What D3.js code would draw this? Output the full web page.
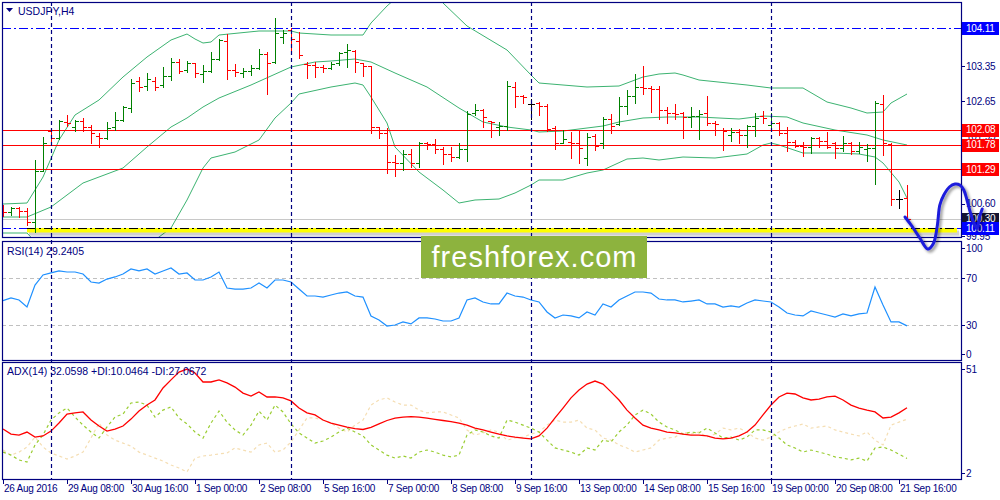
<!DOCTYPE html>
<html><head><meta charset="utf-8">
<script src="https://cdn.jsdelivr.net/npm/d3@7"></script>
<style>
body{margin:0;background:#fff;}
svg{display:block;}
text{font-family:"Liberation Sans",Arial,sans-serif;}
</style>
</head><body>
<svg id="c" width="1000" height="500"></svg>
<script>
// ---------------- DATA ----------------
const symbolTitle = "USDJPY,H4";
const rsiTitle = "RSI(14) 29.2405";
const adxTitle = "ADX(14) 32.0598 +DI:10.0464 -DI:27.0672";
const timeTickBars = [0,8,16,24,32,40,48,56,64,72,80,88,96,104,112];
const timeTickLabels = ["26 Aug 2016","29 Aug 08:00","30 Aug 16:00","1 Sep 00:00","2 Sep 08:00","5 Sep 16:00","7 Sep 00:00","8 Sep 08:00","9 Sep 16:00","13 Sep 00:00","14 Sep 08:00","15 Sep 16:00","19 Sep 00:00","20 Sep 08:00","21 Sep 16:00"];
const weekSeparatorBars = [6,36,66,96];
const priceTicks = [104.05,103.35,102.65,101.95,101.25,100.60,99.95];
const rsiTicks = [100,70,30,0];
const rsiLevels = [70,30];
const adxTicks = [51,2];

const opens  = [100.53,100.43,100.51,100.45,100.23,101.25,102.05,101.91,102.23,102.13,102.25,102.13,101.95,101.91,102.13,102.27,102.51,103.05,102.95,103.05,102.97,103.15,103.43,103.27,103.41,103.19,103.25,103.49,103.85,103.27,103.21,103.25,103.31,103.59,103.43,103.93,104.07,103.85,103.39,103.37,103.33,103.31,103.41,103.63,103.65,103.41,103.35,102.13,102.01,101.43,101.41,101.59,101.41,101.81,101.79,101.69,101.59,101.53,101.69,102.41,102.47,102.25,102.13,102.15,102.93,102.75,102.59,102.61,102.55,102.11,101.81,101.83,101.81,101.51,101.95,101.81,102.29,102.19,102.55,102.75,102.93,102.91,102.89,102.47,102.41,102.41,102.33,102.35,102.41,102.21,102.07,101.97,102.03,101.97,102.15,102.35,102.17,102.21,102.01,101.83,101.75,101.73,101.91,101.85,101.81,101.71,101.81,101.65,101.69,101.71,102.59,101.79,100.69,100.71];
const highs  = [100.57,100.53,100.53,100.51,101.47,101.93,102.09,102.27,102.37,102.27,102.31,102.17,102.01,102.23,102.43,102.55,103.09,103.13,103.21,103.13,103.33,103.51,103.49,103.45,103.41,103.37,103.63,103.89,103.99,103.39,103.31,103.37,103.69,103.63,104.31,104.07,104.11,104.03,103.43,103.43,103.37,103.43,103.63,103.79,103.67,103.41,103.35,102.13,102.11,101.57,101.67,101.69,101.83,101.83,101.89,101.73,101.73,101.81,102.45,102.59,102.49,102.25,102.23,103.05,103.03,102.77,102.69,102.63,102.59,102.15,102.07,102.03,102.07,102.01,101.99,102.33,102.39,102.73,102.87,103.19,103.35,102.95,102.95,102.53,102.59,102.43,102.53,102.47,102.75,102.25,102.11,102.11,102.09,102.17,102.41,102.45,102.41,102.23,102.13,101.87,101.83,101.93,101.93,102.03,101.83,101.95,101.83,101.83,101.79,102.65,102.77,101.81,100.87,100.97];
const lows   = [100.35,100.37,100.33,100.17,100.03,101.25,101.81,101.89,102.15,102.05,102.05,101.81,101.73,101.89,102.07,102.25,102.43,102.85,102.87,102.87,102.93,103.07,103.21,103.23,103.13,103.03,103.23,103.47,103.09,103.15,103.13,103.17,103.29,102.79,103.41,103.81,103.63,103.51,103.11,103.13,103.23,103.29,103.37,103.33,103.23,103.15,102.01,101.91,101.21,101.15,101.27,101.33,101.33,101.69,101.61,101.39,101.45,101.51,101.45,102.37,102.13,101.93,101.97,102.07,102.53,102.61,102.29,102.37,102.05,101.69,101.81,101.51,101.41,101.37,101.67,101.71,102.01,102.17,102.39,102.61,102.79,102.43,102.29,102.21,102.29,101.91,102.13,101.89,102.17,101.97,101.67,101.85,101.81,101.73,101.95,102.21,102.11,101.97,101.65,101.73,101.55,101.61,101.73,101.71,101.51,101.65,101.59,101.61,101.45,100.99,101.57,100.57,100.51,100.28];
const closes = [100.43,100.51,100.45,100.23,101.25,101.81,101.91,102.25,102.21,102.25,102.13,102.01,101.91,102.11,102.27,102.53,103.01,102.93,103.09,102.93,103.15,103.43,103.25,103.41,103.21,103.25,103.49,103.87,103.27,103.23,103.25,103.31,103.59,103.41,104.01,104.01,103.89,103.57,103.37,103.33,103.31,103.39,103.61,103.67,103.43,103.35,102.13,102.01,101.43,101.41,101.59,101.41,101.81,101.79,101.69,101.59,101.53,101.69,102.39,102.47,102.33,102.23,102.15,102.95,102.75,102.73,102.59,102.55,102.09,101.81,101.89,101.81,101.71,101.93,101.75,102.29,102.15,102.55,102.75,102.93,102.91,102.89,102.47,102.41,102.39,102.33,102.35,102.39,102.21,102.19,102.05,102.03,101.97,102.15,102.31,102.31,102.21,102.01,101.83,101.75,101.73,101.91,101.85,101.73,101.71,101.81,101.65,101.73,101.71,102.61,101.81,100.69,100.69,100.30];

// Bollinger bands, sampled [bar, price]
const bandUpper = [[0,100.59],[3,100.61],[5,101.13],[7,101.87],[9,102.37],[12,102.67],[15,103.13],[18,103.53],[21,103.87],[23,103.99],[24,103.89],[25,103.81],[26,103.83],[27,103.97],[32,104.05],[36,104.05],[37,104.01],[41,103.97],[45,103.97],[46,104.21],[48,104.55],[50,104.83],[52,104.91],[54,104.79],[55,104.61],[58,104.15],[63,103.67],[66,103.17],[67,103.01],[70,102.97],[73,102.93],[77,102.95],[80,103.13],[82,103.19],[84,103.21],[85,103.17],[87,103.07],[93,102.97],[96,102.91],[100,102.91],[103,102.63],[106,102.51],[108,102.41],[110,102.43],[111,102.61],[113,102.79]];
const bandMiddle = [[0,100.33],[3,100.33],[6,100.53],[10,101.01],[15,101.31],[18,101.73],[21,102.13],[23,102.31],[25,102.53],[27,102.71],[31,102.97],[36,103.33],[39,103.43],[41,103.45],[44,103.49],[46,103.43],[49,103.21],[53,102.93],[57,102.51],[60,102.23],[63,102.13],[66,102.07],[67,102.03],[70,102.05],[72,102.09],[75,102.15],[77,102.23],[80,102.31],[83,102.33],[87,102.33],[92,102.29],[95,102.35],[98,102.33],[100,102.21],[104,102.07],[108,101.97],[110,101.87],[113,101.77]];
const bandLower = [[0,100.01],[3,100.01],[5,99.67],[8,99.23],[12,98.97],[15,99.17],[17,99.51],[19,99.87],[21,100.11],[23,100.67],[25,101.31],[26,101.51],[29,101.63],[32,101.87],[34,102.31],[36,102.61],[37,102.79],[41,102.93],[44,103.01],[45,102.97],[46,102.73],[48,102.21],[49,101.73],[52,101.23],[55,100.87],[57,100.61],[59,100.67],[62,100.69],[64,100.81],[66,100.97],[67,101.07],[70,101.07],[73,101.21],[75,101.27],[78,101.49],[80,101.51],[82,101.47],[83,101.49],[85,101.53],[89,101.51],[93,101.59],[95,101.77],[96,101.81],[97,101.77],[100,101.61],[104,101.61],[107,101.59],[109,101.53],[110,101.41],[112,101.03],[113,100.71]];

const redLevels = [102.08,101.78,101.29];
const blueLevel = 104.11;
const bidPrice = 100.30;
const supportLevel = 100.11;

const rsi = [50.7,53.0,51.3,45.3,64.0,72.6,74.3,76.0,75.1,75.1,73.4,66.6,65.7,69.1,70.9,73.4,77.7,76.0,77.7,73.4,76.0,78.5,73.4,74.3,68.3,68.3,70.9,75.1,61.5,60.6,60.6,61.5,65.7,61.5,68.3,68.3,66.6,60.6,54.7,54.7,53.8,55.5,57.2,58.1,54.7,53.8,37.7,34.3,29.1,30.0,32.6,30.9,36.0,36.0,35.1,33.4,33.4,36.0,51.3,53.0,49.6,47.9,47.9,57.2,54.7,53.8,51.3,49.6,41.1,36.0,38.5,37.7,36.0,41.1,38.5,47.9,45.3,51.3,54.7,58.1,58.1,57.2,52.1,51.3,51.3,49.6,50.4,51.3,47.9,47.9,45.3,46.2,45.3,48.7,51.3,50.4,49.6,45.3,40.2,38.5,37.7,41.9,40.2,38.5,36.8,39.4,37.7,39.4,40.2,62.3,47.0,32.6,32.6,29.24];
const adx = [22.8,20.6,20.2,21.5,19.3,19.8,21.9,25.4,29.3,29.8,30.2,26.7,24.1,21.9,22.8,24.1,27.1,30.6,33.2,35.4,40.6,44.1,47.5,48.8,47.1,43.2,43.2,44.1,42.8,41.0,38.4,37.1,38.9,36.7,36.7,36.3,35.0,31.9,29.8,28.9,26.7,25.4,24.5,23.6,23.0,22.6,23.5,25.0,26.5,27.5,28.0,28.2,28.0,27.5,27.0,26.5,26.0,25.4,24.5,23.2,22.4,21.5,20.6,19.8,19.3,18.9,18.5,19.8,23.2,27.6,31.9,36.3,39.7,42.3,43.6,42.3,38.9,35.4,31.0,27.6,24.5,23.2,22.4,21.5,21.1,20.6,20.2,20.2,19.8,18.9,18.5,18.9,19.8,21.5,24.5,28.9,33.2,36.7,38.4,38.0,36.3,35.4,35.8,36.7,37.1,35.4,33.2,31.9,31.0,30.2,27.6,28.0,29.8,32.06];
const plusDI = [12.8,11.5,9.4,8.5,15.9,20.2,26.7,29.8,31.9,28.0,24.5,21.5,18.9,23.7,28.0,29.3,34.1,34.5,33.2,28.0,31.0,32.4,27.6,25.0,21.5,18.9,25.4,30.6,25.8,22.4,20.2,24.5,30.6,26.7,33.2,30.2,25.0,21.1,18.9,16.7,17.6,19.3,21.5,23.2,21.5,19.8,15.9,13.7,11.5,10.2,11.1,10.2,12.8,13.7,12.8,11.5,10.7,11.5,20.2,22.4,21.5,19.8,18.9,26.7,25.8,24.5,23.2,21.5,18.0,14.6,13.7,12.8,11.5,14.6,13.7,18.0,17.2,21.5,24.5,28.9,31.0,29.3,25.8,23.7,22.4,20.6,21.5,21.1,23.2,21.1,18.9,19.3,18.0,19.3,22.4,22.4,21.5,18.9,15.9,14.6,12.8,13.7,12.8,11.9,10.7,10.2,9.4,10.2,8.9,14.6,15.0,13.7,11.9,10.05];
const minusDI = [13.7,11.5,12.8,15.0,19.3,15.0,12.4,11.1,9.8,11.1,12.8,18.9,25.4,20.2,18.0,16.7,15.4,12.8,11.5,10.2,8.9,7.2,5.9,4.2,10.2,11.1,11.5,12.0,12.4,14.6,13.7,12.8,15.9,16.7,12.8,13.7,17.2,22.4,27.6,27.6,26.7,25.4,23.2,21.5,24.5,26.7,33.2,35.4,36.3,34.5,33.2,33.2,31.0,29.8,30.2,30.2,28.9,27.6,22.4,20.2,21.1,22.4,21.5,18.0,18.9,19.3,20.6,21.5,24.5,26.7,25.8,25.8,26.7,23.2,22.4,18.9,18.0,15.9,14.6,12.8,13.7,14.6,18.0,18.9,19.3,21.5,20.6,21.5,19.3,20.6,23.2,22.4,23.2,21.5,18.9,18.0,19.3,21.5,23.2,24.1,25.0,23.2,23.7,24.1,22.4,21.5,20.6,19.8,21.5,18.0,15.9,24.5,25.8,27.07];

// hand-drawn annotation curve [bar, price]
const annotationCurve = [[112.75,100.33],[113.6,100.15],[114.6,99.91],[115.6,99.69],[116.3,99.80],[116.8,100.17],[117.1,100.57],[117.6,100.77],[118.3,100.93],[119,100.99],[119.6,100.97],[120.1,100.87],[120.5,100.67],[120.9,100.43],[121.4,100.19],[121.75,100.10],[122.1,100.35],[122.4,100.49]];

const watermark = "freshforex.com";

// ---------------- LAYOUT ----------------
const L = 2, R = 961;
const main = {top:2, bottom:237};
const rsiP = {top:241, bottom:360};
const adxP = {top:362, bottom:479};
const NAVY = "#000080";

const svg = d3.select("#c");
const x = d3.scaleLinear().domain([0,113]).range([3,907]);
const yP = d3.scaleLinear().domain([99.93,104.63]).range([main.bottom, main.top]);
const yR = d3.scaleLinear().domain([0,100]).range([360.25,242.75]);
const yA = d3.scaleLinear().domain([2,51]).range([477,364]);

const defs = svg.append("defs");
defs.append("clipPath").attr("id","clipMain").append("rect")
  .attr("x",L).attr("y",main.top).attr("width",R-L).attr("height",main.bottom-main.top);
defs.append("clipPath").attr("id","clipRsi").append("rect")
  .attr("x",L).attr("y",rsiP.top).attr("width",R-L).attr("height",rsiP.bottom-rsiP.top);
defs.append("clipPath").attr("id","clipAdx").append("rect")
  .attr("x",L).attr("y",adxP.top).attr("width",R-L).attr("height",adxP.bottom-adxP.top);
const f = defs.append("filter").attr("id","shadow").attr("x","-20%").attr("y","-20%").attr("width","140%").attr("height","140%");
f.append("feGaussianBlur").attr("in","SourceAlpha").attr("stdDeviation",1.5).attr("result","b");
f.append("feOffset").attr("in","b").attr("dx",2).attr("dy",2).attr("result","o");
f.append("feComponentTransfer").attr("in","o").attr("result","s").append("feFuncA").attr("type","linear").attr("slope",0.45);
const fm = f.append("feMerge"); fm.append("feMergeNode").attr("in","s"); fm.append("feMergeNode").attr("in","SourceGraphic");

const px = v => Math.round(v)+0.5;

// ---------------- MAIN PANEL ----------------
const gM = svg.append("g").attr("clip-path","url(#clipMain)");
gM.append("line").attr("x1",L).attr("x2",R).attr("y1",px(yP(bidPrice))).attr("y2",px(yP(bidPrice)))
  .attr("stroke","#c8c8c8").attr("stroke-width",1);
const bandLine = d3.line().x(d=>x(d[0])).y(d=>yP(d[1]));
[bandUpper,bandMiddle,bandLower].forEach(b=>{
  gM.append("path").attr("d",bandLine(b)).attr("fill","none").attr("stroke","#3cb371").attr("stroke-width",1);
});
redLevels.forEach(v=>{
  gM.append("line").attr("x1",L).attr("x2",R).attr("y1",px(yP(v))).attr("y2",px(yP(v)))
    .attr("stroke","#ff0000").attr("stroke-width",1.2);
});
gM.append("line").attr("x1",L).attr("x2",R).attr("y1",px(yP(blueLevel))).attr("y2",px(yP(blueLevel)))
  .attr("stroke","#0000ff").attr("stroke-width",1.2).attr("stroke-dasharray","9,3,2,3");
const ySup = px(yP(supportLevel));
gM.append("line").attr("x1",L).attr("x2",R).attr("y1",ySup).attr("y2",ySup)
  .attr("stroke","#0000ff").attr("stroke-width",1).attr("stroke-dasharray","9,3,2,3");
const zoneX1 = x(3), zoneX2 = 957;
gM.append("rect").attr("x",zoneX1+2).attr("y",ySup+2).attr("width",zoneX2-zoneX1).attr("height",5)
  .attr("fill","#000").attr("opacity",0.18).attr("filter","url(#shadow)");
gM.append("rect").attr("x",zoneX1).attr("y",ySup-0.5).attr("width",zoneX2-zoneX1).attr("height",4.5)
  .attr("fill","#ffff00");
gM.append("line").attr("x1",zoneX1).attr("x2",zoneX2).attr("y1",ySup).attr("y2",ySup)
  .attr("stroke","#000").attr("stroke-width",1.2).attr("stroke-dasharray","9,3,2,3");

const bars = d3.range(opens.length).map(i=>({i,o:opens[i],h:highs[i],l:lows[i],c:closes[i]}));
const barCol = d => d.c>d.o ? "#008000" : (d.c<d.o ? "#ff0000" : "#000000");
const gB = gM.append("g").attr("stroke-width",1).attr("shape-rendering","crispEdges");
gB.selectAll("g.bar").data(bars).join("g").attr("class","bar").each(function(d){
  const g = d3.select(this), cx = px(x(d.i)), col = barCol(d);
  g.append("line").attr("x1",cx).attr("x2",cx).attr("y1",Math.round(yP(d.h))).attr("y2",Math.round(yP(d.l))+1).attr("stroke",col).attr("stroke-width",1.4);
  g.append("line").attr("x1",cx-3.5).attr("x2",cx).attr("y1",px(yP(d.o))).attr("y2",px(yP(d.o))).attr("stroke",col);
  g.append("line").attr("x1",cx).attr("x2",cx+3.5).attr("y1",px(yP(d.c))).attr("y2",px(yP(d.c))).attr("stroke",col);
});

// ---------------- RSI PANEL ----------------
const gR = svg.append("g").attr("clip-path","url(#clipRsi)");
rsiLevels.forEach(v=>{
  gR.append("line").attr("x1",L).attr("x2",R).attr("y1",px(yR(v))).attr("y2",px(yR(v)))
    .attr("stroke","#c0c0c0").attr("stroke-dasharray","4,3");
});
gR.append("path").attr("d",d3.line().x((d,i)=>x(i)).y(d=>yR(d))(rsi))
  .attr("fill","none").attr("stroke","#1e90ff").attr("stroke-width",1.2);

// ---------------- ADX PANEL ----------------
const gA = svg.append("g").attr("clip-path","url(#clipAdx)");
const lA = d3.line().x((d,i)=>x(i)).y(d=>yA(d));
gA.append("path").attr("d",lA(minusDI)).attr("fill","none").attr("stroke","#f5deb3").attr("stroke-width",1.2).attr("stroke-dasharray","3,3");
gA.append("path").attr("d",lA(plusDI)).attr("fill","none").attr("stroke","#9acd32").attr("stroke-width",1.2).attr("stroke-dasharray","3,3");
gA.append("path").attr("d",lA(adx)).attr("fill","none").attr("stroke","#ff0000").attr("stroke-width",1.3);

// ---------------- SEPARATORS & FRAMES ----------------
weekSeparatorBars.forEach(b=>{
  svg.append("line").attr("x1",px(x(b))).attr("x2",px(x(b))).attr("y1",main.top).attr("y2",adxP.bottom)
    .attr("stroke",NAVY).attr("stroke-width",1.2).attr("stroke-dasharray","4,3");
});
[[main.top,main.bottom],[rsiP.top,rsiP.bottom],[adxP.top,adxP.bottom]].forEach(([t,b])=>{
  svg.append("rect").attr("x",L+0.5).attr("y",t+0.5).attr("width",R-L).attr("height",b-t)
    .attr("fill","none").attr("stroke",NAVY).attr("stroke-width",1.2);
});

// ---------------- AXES ----------------
const axisG = svg.append("g").attr("fill",NAVY).attr("font-size","10px");
priceTicks.forEach(v=>{
  const yy = yP(v);
  svg.append("line").attr("x1",R).attr("x2",R+4).attr("y1",px(yy)).attr("y2",px(yy)).attr("stroke",NAVY);
  axisG.append("text").attr("x",966).attr("y",yy+3.5).attr("letter-spacing","-0.2px").text(v.toFixed(2));
});
function clampY(v,p){return Math.max(p.top+7,Math.min(p.bottom-6,v));}
rsiTicks.forEach(v=>{
  const yy = clampY(yR(v),rsiP);
  svg.append("line").attr("x1",R).attr("x2",R+4).attr("y1",px(yy)).attr("y2",px(yy)).attr("stroke",NAVY);
  axisG.append("text").attr("x",966).attr("y",yy+3.5).text(v);
});
adxTicks.forEach(v=>{
  const yy = clampY(yA(v),adxP);
  svg.append("line").attr("x1",R).attr("x2",R+4).attr("y1",px(yy)).attr("y2",px(yy)).attr("stroke",NAVY);
  axisG.append("text").attr("x",966).attr("y",yy+3.5).text(v);
});
timeTickBars.forEach((b,k)=>{
  const xx = px(x(b));
  svg.append("line").attr("x1",xx).attr("x2",xx).attr("y1",adxP.bottom).attr("y2",adxP.bottom+5).attr("stroke",NAVY);
  axisG.append("text").attr("x",xx+0.5).attr("y",492).attr("letter-spacing","-0.25px").text(timeTickLabels[k]);
});

function levelLabel(v,fill){
  const yy = yP(v);
  svg.append("rect").attr("x",962).attr("y",Math.round(yy)-6).attr("width",37).attr("height",13).attr("fill",fill);
  svg.append("text").attr("x",966).attr("y",yy+3.8).attr("fill","#fff").attr("font-size","10px").attr("letter-spacing","-0.2px").text(v.toFixed(2));
}
levelLabel(blueLevel,"#0000ff");
redLevels.forEach(v=>levelLabel(v,"#ff0000"));
levelLabel(bidPrice,"#141432");
levelLabel(supportLevel,"#0000ff");

svg.append("path").attr("d","M6,8 L13,8 L9.5,12 Z").attr("fill",NAVY);
svg.append("text").attr("x",18).attr("y",14.5).attr("fill",NAVY).attr("font-size","10.5px").text(symbolTitle);
svg.append("text").attr("x",7).attr("y",255).attr("fill",NAVY).attr("font-size","10.5px").text(rsiTitle);
svg.append("text").attr("x",7).attr("y",375).attr("fill",NAVY).attr("font-size","10.5px").text(adxTitle);

// ---------------- WATERMARK ----------------
svg.append("rect").attr("x",421).attr("y",236).attr("width",226).attr("height",42).attr("fill","#8db33e");
svg.append("text").attr("x",534).attr("y",267).attr("text-anchor","middle").attr("fill","#fff")
  .attr("font-family","'Open Sans',sans-serif").attr("font-size","29px").attr("textLength",205).text(watermark);

// ---------------- ANNOTATION ----------------
svg.append("path").attr("d",d3.line().curve(d3.curveCatmullRom).x(d=>x(d[0])).y(d=>yP(d[1]))(annotationCurve))
  .attr("fill","none").attr("stroke","#1c1cdc").attr("stroke-width",3).attr("stroke-linecap","round")
  .attr("stroke-linejoin","round").attr("filter","url(#shadow)");
</script>
</body></html>
